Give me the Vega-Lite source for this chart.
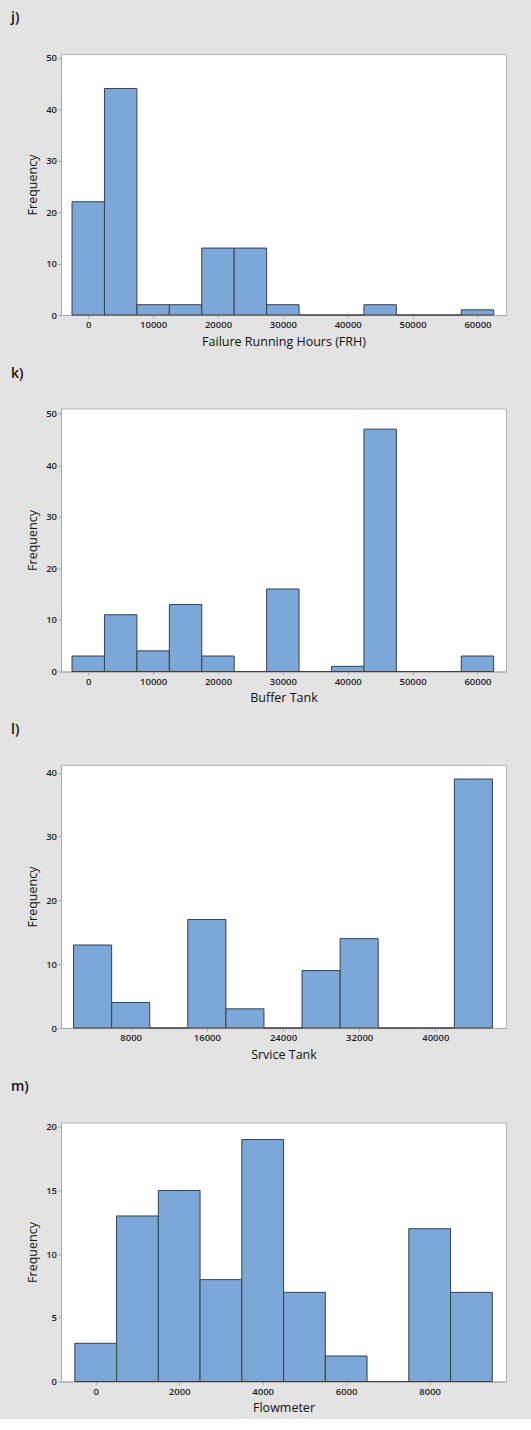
{
  "$schema": "https://vega.github.io/schema/vega-lite/v6.json",
  "background": "#E3E3E3",
  "padding": {"left": 10, "top": 10, "right": 26, "bottom": 4},
  "spacing": 17.5,
  "config": {
    "font": "Open Sans",
    "view": {"fill": "white", "stroke": "#B4B4B4", "strokeWidth": 1},
    "axis": {
      "grid": false,
      "domainColor": "#A8A8A8",
      "tickColor": "#A8A8A8",
      "tickSize": 3,
      "labelFont": "Open Sans",
      "labelFontSize": 9.5,
      "labelFontWeight": 600,
      "labelColor": "#1E1E1E",
      "labelPadding": 1.5,
      "titleFont": "Open Sans",
      "titleFontSize": 12.5,
      "titleFontWeight": "normal",
      "titleColor": "#111111"
    },
    "axisX": {"titlePadding": 6},
    "axisY": {"titlePadding": 6},
    "title": {"font": "Open Sans", "fontSize": 14, "fontWeight": 600, "color": "#111111", "anchor": "start", "frame": "group", "dx": -50, "offset": 28}
  },
  "datasets": {
    "j": [
      {"lo": -2500, "hi": 2500, "count": 22},
      {"lo": 2500, "hi": 7500, "count": 44},
      {"lo": 7500, "hi": 12500, "count": 2},
      {"lo": 12500, "hi": 17500, "count": 2},
      {"lo": 17500, "hi": 22500, "count": 13},
      {"lo": 22500, "hi": 27500, "count": 13},
      {"lo": 27500, "hi": 32500, "count": 2},
      {"lo": 32500, "hi": 37500, "count": 0},
      {"lo": 37500, "hi": 42500, "count": 0},
      {"lo": 42500, "hi": 47500, "count": 2},
      {"lo": 47500, "hi": 52500, "count": 0},
      {"lo": 52500, "hi": 57500, "count": 0},
      {"lo": 57500, "hi": 62500, "count": 1}
    ],
    "k": [
      {"lo": -2500, "hi": 2500, "count": 3},
      {"lo": 2500, "hi": 7500, "count": 11},
      {"lo": 7500, "hi": 12500, "count": 4},
      {"lo": 12500, "hi": 17500, "count": 13},
      {"lo": 17500, "hi": 22500, "count": 3},
      {"lo": 22500, "hi": 27500, "count": 0},
      {"lo": 27500, "hi": 32500, "count": 16},
      {"lo": 32500, "hi": 37500, "count": 0},
      {"lo": 37500, "hi": 42500, "count": 1},
      {"lo": 42500, "hi": 47500, "count": 47},
      {"lo": 47500, "hi": 52500, "count": 0},
      {"lo": 52500, "hi": 57500, "count": 0},
      {"lo": 57500, "hi": 62500, "count": 3}
    ],
    "l": [
      {"lo": 2000, "hi": 6000, "count": 13},
      {"lo": 6000, "hi": 10000, "count": 4},
      {"lo": 10000, "hi": 14000, "count": 0},
      {"lo": 14000, "hi": 18000, "count": 17},
      {"lo": 18000, "hi": 22000, "count": 3},
      {"lo": 22000, "hi": 26000, "count": 0},
      {"lo": 26000, "hi": 30000, "count": 9},
      {"lo": 30000, "hi": 34000, "count": 14},
      {"lo": 34000, "hi": 38000, "count": 0},
      {"lo": 38000, "hi": 42000, "count": 0},
      {"lo": 42000, "hi": 46000, "count": 39}
    ],
    "m": [
      {"lo": -500, "hi": 500, "count": 3},
      {"lo": 500, "hi": 1500, "count": 13},
      {"lo": 1500, "hi": 2500, "count": 15},
      {"lo": 2500, "hi": 3500, "count": 8},
      {"lo": 3500, "hi": 4500, "count": 19},
      {"lo": 4500, "hi": 5500, "count": 7},
      {"lo": 5500, "hi": 6500, "count": 2},
      {"lo": 6500, "hi": 7500, "count": 0},
      {"lo": 7500, "hi": 8500, "count": 12},
      {"lo": 8500, "hi": 9500, "count": 7}
    ]
  },
  "vconcat": [
    {
      "title": {"text": "j)"},
      "width": 445,
      "height": 261,
      "data": {"name": "j"},
      "mark": {"type": "bar", "fill": "#7BA7D9", "stroke": "#3F3F3F", "strokeWidth": 1},
      "encoding": {
        "x": {"field": "lo", "type": "quantitative", "scale": {"domain": [-4200, 64400], "nice": false, "zero": false}, "axis": {"values": [0, 10000, 20000, 30000, 40000, 50000, 60000], "format": "d", "title": "Failure Running Hours (FRH)"}},
        "x2": {"field": "hi"},
        "y": {"field": "count", "type": "quantitative", "scale": {"domain": [0, 50.7], "nice": false}, "axis": {"values": [0, 10, 20, 30, 40, 50], "title": "Frequency"}},
        "y2": {"datum": 0}
      }
    },
    {
      "title": {"text": "k)"},
      "width": 445,
      "height": 263,
      "data": {"name": "k"},
      "mark": {"type": "bar", "fill": "#7BA7D9", "stroke": "#3F3F3F", "strokeWidth": 1},
      "encoding": {
        "x": {"field": "lo", "type": "quantitative", "scale": {"domain": [-4200, 64400], "nice": false, "zero": false}, "axis": {"values": [0, 10000, 20000, 30000, 40000, 50000, 60000], "format": "d", "title": "Buffer Tank"}},
        "x2": {"field": "hi"},
        "y": {"field": "count", "type": "quantitative", "scale": {"domain": [0, 51.0], "nice": false}, "axis": {"values": [0, 10, 20, 30, 40, 50], "title": "Frequency"}},
        "y2": {"datum": 0}
      }
    },
    {
      "title": {"text": "l)"},
      "width": 445,
      "height": 263,
      "data": {"name": "l"},
      "mark": {"type": "bar", "fill": "#7BA7D9", "stroke": "#3F3F3F", "strokeWidth": 1},
      "encoding": {
        "x": {"field": "lo", "type": "quantitative", "scale": {"domain": [680, 47425], "nice": false, "zero": false}, "axis": {"values": [8000, 16000, 24000, 32000, 40000], "format": "d", "title": "Srvice Tank"}},
        "x2": {"field": "hi"},
        "y": {"field": "count", "type": "quantitative", "scale": {"domain": [0, 41.2], "nice": false}, "axis": {"values": [0, 10, 20, 30, 40], "title": "Frequency"}},
        "y2": {"datum": 0}
      }
    },
    {
      "title": {"text": "m)"},
      "width": 445,
      "height": 259,
      "data": {"name": "m"},
      "mark": {"type": "bar", "fill": "#7BA7D9", "stroke": "#3F3F3F", "strokeWidth": 1},
      "encoding": {
        "x": {"field": "lo", "type": "quantitative", "scale": {"domain": [-831, 9828], "nice": false, "zero": false}, "axis": {"values": [0, 2000, 4000, 6000, 8000], "format": "d", "title": "Flowmeter"}},
        "x2": {"field": "hi"},
        "y": {"field": "count", "type": "quantitative", "scale": {"domain": [0, 20.34], "nice": false}, "axis": {"values": [0, 5, 10, 15, 20], "title": "Frequency"}},
        "y2": {"datum": 0}
      }
    }
  ]
}
